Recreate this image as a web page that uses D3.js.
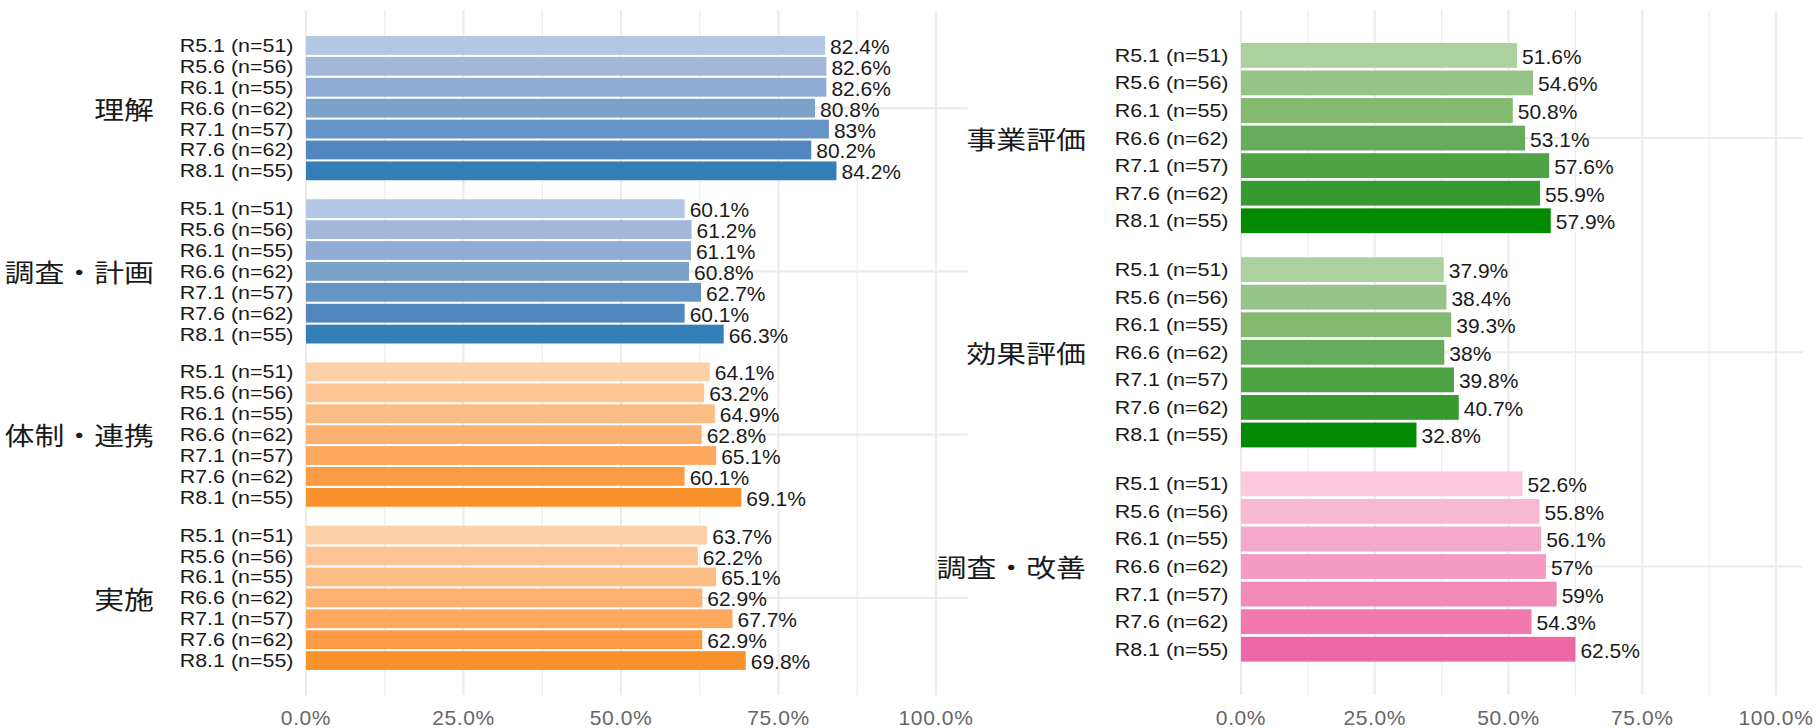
<!DOCTYPE html>
<html>
<head>
<meta charset="utf-8">
<script src="https://cdn.jsdelivr.net/npm/d3@7"></script>
<style>
  body { margin: 0; background: #fff; }
  #chart { width: 1819px; height: 728px; }
</style>
</head>
<body>
<div id="chart"></div>
<script>
// periods shown in every group
const periods = ['R5.1 (n=51)', 'R5.6 (n=56)', 'R6.1 (n=55)', 'R6.6 (n=62)', 'R7.1 (n=57)', 'R7.6 (n=62)', 'R8.1 (n=55)'];

// left plot
const leftGroups = ['理解', '調査・計画', '体制・連携', '実施'];
const rikai     = [82.4, 82.6, 82.6, 80.8, 83, 80.2, 84.2];
const chousa    = [60.1, 61.2, 61.1, 60.8, 62.7, 60.1, 66.3];
const taisei    = [64.1, 63.2, 64.9, 62.8, 65.1, 60.1, 69.1];
const jisshi    = [63.7, 62.2, 65.1, 62.9, 67.7, 62.9, 69.8];

// right plot
const rightGroups = ['事業評価', '効果評価', '調査・改善'];
const jigyou    = [51.6, 54.6, 50.8, 53.1, 57.6, 55.9, 57.9];
const kouka     = [37.9, 38.4, 39.3, 38, 39.8, 40.7, 32.8];
const kaizen    = [52.6, 55.8, 56.1, 57, 59, 54.3, 62.5];

const blues   = ['#b3c6e4', '#a2b7d9', '#8eacd4', '#7ca2c9', '#6595c6', '#5286be', '#347eb8'];
const oranges = ['#fdd1a8', '#fdc596', '#fcbd84', '#fdb170', '#fda85d', '#fd9c45', '#f8932b'];
const greens  = ['#abd19f', '#96c488', '#84ba70', '#66ac5a', '#4fa344', '#369a2e', '#038a03'];
const pinks   = ['#fdc7dd', '#f8b8d3', '#f5a9c8', '#f59bc1', '#f28ab7', '#f07aae', '#ee67a5'];

const majorTicks = [0, 25, 50, 75, 100];
const minorTicks = [12.5, 37.5, 62.5, 87.5];
const tickLabels = ['0.0%', '25.0%', '50.0%', '75.0%', '100.0%'];

const panels = [
  { groups: leftGroups, values: [rikai, chousa, taisei, jisshi], colors: [blues, blues, oranges, oranges],
    xr: [306, 936], yr: [35, 671], pad: 0.1036, groupLabelX: 154 },
  { groups: rightGroups, values: [jigyou, kouka, kaizen], colors: [greens, greens, pinks],
    xr: [1241, 1776], yr: [41.6, 663], pad: 0.0994, groupLabelX: 1086 }
];

const svg = d3.select('#chart').append('svg')
  .attr('width', 1819).attr('height', 728)
  .style('font-family', '"Liberation Sans", Arial, sans-serif');

// text helper: some labels are drawn a little wider, as in the original
function stretchedText(g, x, y, txt, sx, anchor) {
  return g.append('g')
    .attr('transform', `translate(${x},${y}) scale(${sx},1)`)
    .append('text')
    .attr('text-anchor', anchor)
    .attr('dominant-baseline', 'central')
    .text(txt);
}

panels.forEach(p => {
  const x = d3.scaleLinear().domain([0, 100]).range(p.xr);
  const yGroup = d3.scaleBand().domain(p.groups).range(p.yr).paddingInner(p.pad).paddingOuter(0);
  const yPeriod = d3.scaleBand().domain(periods).range([0, yGroup.bandwidth()]).paddingInner(0.1).paddingOuter(0.05);

  const g = svg.append('g');

  // grid
  g.selectAll('.minor').data(minorTicks).join('line')
    .attr('x1', d => x(d)).attr('x2', d => x(d))
    .attr('y1', 10).attr('y2', 695)
    .attr('stroke', '#ebebeb').attr('stroke-width', 1.1);
  g.selectAll('.major').data(majorTicks).join('line')
    .attr('x1', d => x(d)).attr('x2', d => x(d))
    .attr('y1', 10).attr('y2', 695)
    .attr('stroke', '#ebebeb').attr('stroke-width', 2.1);
  g.selectAll('.hgrid').data(p.groups).join('line')
    .attr('x1', x(0)).attr('x2', x(105))
    .attr('y1', d => yGroup(d) + yGroup.bandwidth() / 2)
    .attr('y2', d => yGroup(d) + yGroup.bandwidth() / 2)
    .attr('stroke', '#ebebeb').attr('stroke-width', 2.1);

  p.groups.forEach((grp, gi) => {
    const gy = yGroup(grp);
    const rows = periods.map((per, i) => ({ per, v: p.values[gi][i], c: p.colors[gi][i] }));

    g.selectAll(null).data(rows).join('rect')
      .attr('x', x(0))
      .attr('y', d => gy + yPeriod(d.per))
      .attr('width', d => x(d.v) - x(0))
      .attr('height', yPeriod.bandwidth())
      .attr('fill', d => d.c);

    rows.forEach(d => {
      const cy = gy + yPeriod(d.per) + yPeriod.bandwidth() / 2;
      g.append('text')
        .attr('x', x(d.v) + 5).attr('y', cy + 1)
        .attr('dominant-baseline', 'central')
        .attr('font-size', 21).attr('fill', '#1a1a1a')
        .text(d.v + '%');
      stretchedText(g, x(0) - 12.5, cy, d.per, 1.16, 'end')
        .attr('font-size', 18.5).attr('fill', '#1a1a1a');
    });

    stretchedText(g, p.groupLabelX, gy + yGroup.bandwidth() / 2, grp, 1.22, 'end')
      .attr('font-size', 24.5).attr('fill', '#1a1a1a')
      .style('font-family', '"Noto Sans CJK JP", sans-serif');
  });

  // x axis labels
  g.selectAll('.tick').data(majorTicks).join('text')
    .attr('x', d => x(d)).attr('y', 725)
    .attr('text-anchor', 'middle')
    .attr('font-size', 21).attr('letter-spacing', 0.6)
    .attr('fill', '#666')
    .text((d, i) => tickLabels[i]);
});
</script>
</body>
</html>
